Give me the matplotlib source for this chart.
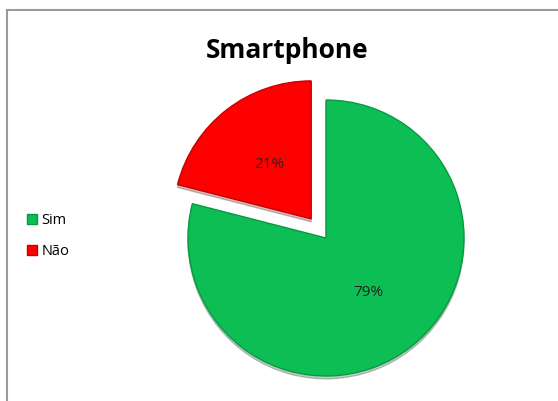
import matplotlib
matplotlib.use("Agg")
import matplotlib.pyplot as plt
from matplotlib.lines import Line2D

title = "Smartphone"
labels = ["Sim", "Não"]
values = [79, 21]
colors = ["#0DBE55", "#FF0000"]
edges = ["#079A42", "#C80000"]

plt.rcParams['font.family'] = ['Open Sans', 'DejaVu Sans']

W, H = 558, 401
fig = plt.figure(figsize=(W / 100, H / 100), dpi=100)

# pie center (px from top-left) and radius
cx, cy, r = 326, 238, 138
half = 1.25 * r
ax = fig.add_axes([(cx - half) / W, (H - cy - half) / H, 2 * half / W, 2 * half / H])
wedges, texts, autotexts = ax.pie(values, colors=colors, startangle=90, counterclock=False,
                                  explode=[0, 0.175], autopct="%1.0f%%", pctdistance=0.5,
                                  wedgeprops=dict(linewidth=1.0),
                                  shadow=dict(ox=0.0, oy=-0.015, alpha=0.25),
                                  textprops=dict(fontsize=11, color="#222222"))
for w, e in zip(wedges, edges):
    w.set_edgecolor(e)
ax.set_xlim(-1.25, 1.25)
ax.set_ylim(-1.25, 1.25)
ax.axis("off")

fig.text(287 / W, 1 - 50 / H, title, ha="center", va="center", fontsize=19, fontweight="bold")

handles = [Line2D([], [], marker="s", linestyle="none", markersize=7, markerfacecolor=c,
                  markeredgecolor=e) for c, e in zip(colors, edges)]
fig.legend(handles, labels, loc="center left", bbox_to_anchor=(12 / W, 1 - 236 / H),
           frameon=False, fontsize=10.5, handletextpad=0.1, labelspacing=1.15, handlelength=1.0)

# chart border
fig.add_artist(Line2D([7 / W, 7 / W], [0, 1 - 10 / H], color="#9a9a9a", linewidth=1.5))
fig.add_artist(Line2D([7 / W, 1], [1 - 10 / H, 1 - 10 / H], color="#9a9a9a", linewidth=1.5))

fig.savefig("out.png", dpi=100)
